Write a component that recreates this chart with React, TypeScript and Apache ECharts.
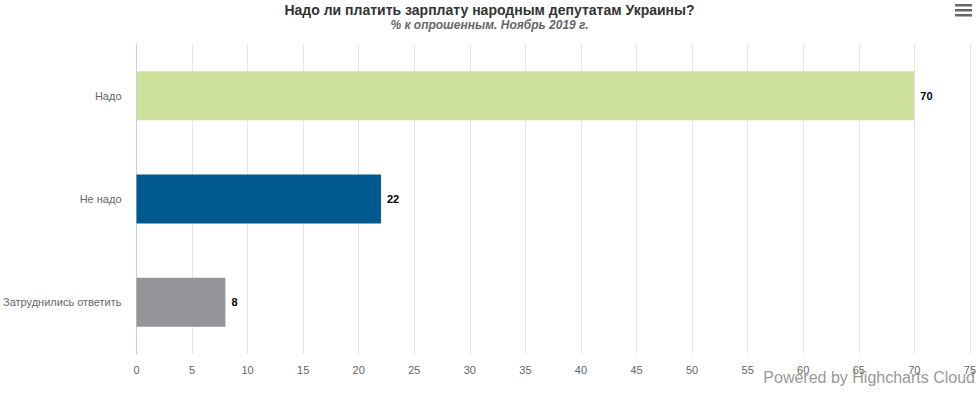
import React, { useEffect, useRef } from "react";
import * as echarts from "echarts";

const categories = ["Надо", "Не надо", "Затруднились ответить"];
const values = [70, 22, 8];
const colors = ["#cde19d", "#005a8f", "#939598"];

export default function App() {
  const ref = useRef<HTMLDivElement>(null);
  useEffect(() => {
    const chart = echarts.init(ref.current!, null, { renderer: "svg" });
    const font = "'Liberation Sans', Arial, Helvetica, sans-serif";
    chart.setOption({
      animation: false,
      title: [
        {
          text: "Надо ли платить зарплату народным депутатам Украины?",
          left: "center",
          top: -2,
          textStyle: { fontFamily: font, fontSize: 14, fontWeight: "bold", color: "#333333" },
        },
        {
          text: "% к опрошенным. Ноябрь 2019 г.",
          left: "center",
          top: 14,
          textStyle: { fontFamily: font, fontSize: 12, fontWeight: "bold", fontStyle: "italic", color: "#666666" },
        },
      ],
      grid: { left: 134, right: 5, top: 44, bottom: 40, containLabel: false },
      xAxis: {
        type: "value",
        min: 0,
        max: 75,
        interval: 5,
        axisLine: { show: false },
        axisTick: { show: false },
        splitLine: { show: true, lineStyle: { color: "#e6e6e6", width: 1 } },
        axisLabel: { fontFamily: font, fontSize: 11, color: "#666666", margin: 10 },
      },
      yAxis: {
        type: "category",
        data: categories,
        inverse: true,
        axisLine: { show: true, lineStyle: { color: "#c0d0e8", width: 1 } },
        axisTick: { show: false },
        axisLabel: { fontFamily: font, fontSize: 11, color: "#666666", margin: 15 },
      },
      series: [
        {
          type: "bar",
          barWidth: 49,
          data: values.map((v, i) => ({ value: v, itemStyle: { color: colors[i] } })),
          label: {
            show: true,
            position: "right",
            distance: 6,
            fontFamily: font,
            fontSize: 11,
            fontWeight: "bold",
            color: "#000000",
          },
        },
      ],
      graphic: [
        { type: "rect", shape: { x: 955, y: 4, width: 17, height: 2.5 }, style: { fill: "#666666" } },
        { type: "rect", shape: { x: 955, y: 9, width: 17, height: 2.5 }, style: { fill: "#666666" } },
        { type: "rect", shape: { x: 955, y: 14, width: 17, height: 2.5 }, style: { fill: "#666666" } },
        {
          type: "text",
          right: 4,
          top: 369,
          style: { text: "Powered by Highcharts Cloud", fontFamily: font, fontSize: 16, fill: "#999999" },
        },
      ],
    });
    return () => chart.dispose();
  }, []);
  return <div ref={ref} style={{ width: 979, height: 394, position: "absolute", left: 0, top: 0 }} />;
}
